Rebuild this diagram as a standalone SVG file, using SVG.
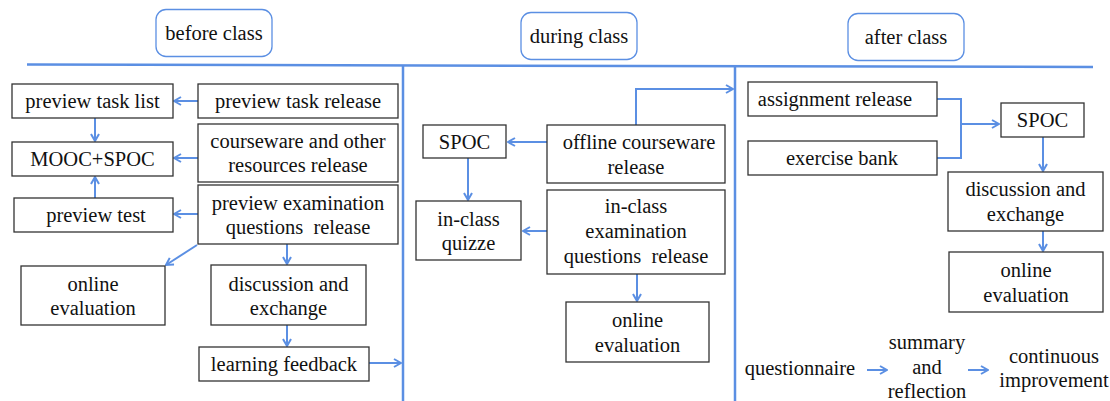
<svg xmlns="http://www.w3.org/2000/svg" width="1110" height="401" viewBox="0 0 1110 401">
<style>
text{font-family:'Liberation Serif','Times New Roman',Times,Tinos,'Noto Serif','DejaVu Serif',FreeSerif,serif;font-size:20.5px;fill:#111;text-anchor:middle}
.box{fill:#fff;stroke:#333;stroke-width:1.3}
.title{fill:#fff;stroke:#5b8fe3;stroke-width:1.3}
.c{fill:none;stroke:#5b8fe3;stroke-width:2}
.div{fill:none;stroke:#5b8fe3;stroke-width:2.5}
.pre{white-space:pre}
</style>
<defs>
<marker id="a" viewBox="0 0 10 10" refX="9" refY="5" markerWidth="10" markerHeight="10" markerUnits="userSpaceOnUse" orient="auto">
<path d="M2,1 L9,5 L2,9" fill="none" stroke="#5b8fe3" stroke-width="2"/>
</marker>
</defs>
<rect width="1110" height="401" fill="#fff"/>

<g id="dividers">
<line class="div" x1="27" y1="64.5" x2="1093" y2="67"/>
<line class="div" x1="403" y1="66" x2="403" y2="401"/>
<line class="div" x1="735" y1="66" x2="735" y2="401"/>
</g>

<g id="title-before"><rect class="title" x="156" y="9.5" width="116" height="47" rx="10"/><text x="214" y="40">before class</text></g>
<g id="title-during"><rect class="title" x="521" y="12.5" width="116" height="47" rx="10"/><text x="579" y="43">during class</text></g>
<g id="title-after"><rect class="title" x="848" y="13.5" width="116" height="47" rx="10"/><text x="906" y="44">after class</text></g>

<g id="connectors">
<line class="c" x1="198" y1="101" x2="174" y2="101" marker-end="url(#a)"/>
<line class="c" x1="95" y1="118" x2="95" y2="141" marker-end="url(#a)"/>
<line class="c" x1="198" y1="158" x2="174" y2="158" marker-end="url(#a)"/>
<line class="c" x1="95" y1="198" x2="95" y2="177" marker-end="url(#a)"/>
<line class="c" x1="198" y1="214" x2="174" y2="214" marker-end="url(#a)"/>
<line class="c" x1="197" y1="245" x2="166" y2="265" marker-end="url(#a)"/>
<line class="c" x1="287" y1="244" x2="287" y2="264" marker-end="url(#a)"/>
<line class="c" x1="287" y1="325" x2="287" y2="346" marker-end="url(#a)"/>
<line class="c" x1="369" y1="363" x2="401" y2="363" marker-end="url(#a)"/>

<line class="c" x1="547" y1="142" x2="508" y2="142" marker-end="url(#a)"/>
<polyline class="c" points="636,125 636,89 733,89" marker-end="url(#a)"/>
<line class="c" x1="468" y1="158" x2="468" y2="200" marker-end="url(#a)"/>
<line class="c" x1="547" y1="231" x2="523" y2="231" marker-end="url(#a)"/>
<line class="c" x1="637" y1="274" x2="637" y2="301" marker-end="url(#a)"/>

<polyline class="c" points="937,99 961,99 961,158 937,158"/>
<line class="c" x1="961" y1="124" x2="999" y2="124" marker-end="url(#a)"/>
<line class="c" x1="1043" y1="137" x2="1043" y2="171" marker-end="url(#a)"/>
<line class="c" x1="1043" y1="231" x2="1043" y2="251" marker-end="url(#a)"/>
<line class="c" x1="867" y1="370" x2="887" y2="370" marker-end="url(#a)"/>
<line class="c" x1="968" y1="370" x2="988" y2="370" marker-end="url(#a)"/>
</g>

<g id="preview-task-list"><rect class="box" x="12" y="84" width="161" height="34"/><text x="92.5" y="108">preview task list</text></g>
<g id="preview-task-release"><rect class="box" x="198" y="84" width="200" height="34"/><text x="298" y="108">preview task release</text></g>
<g id="mooc-spoc"><rect class="box" x="12" y="142" width="161" height="34"/><text x="92.5" y="166">MOOC+SPOC</text></g>
<g id="courseware-release"><rect class="box" x="198" y="124" width="200" height="58"/><text x="298" y="148">courseware and other</text><text x="298" y="172">resources release</text></g>
<g id="preview-test"><rect class="box" x="14" y="198" width="159" height="34"/><text x="96" y="222">preview test</text></g>
<g id="preview-exam-release"><rect class="box" x="198" y="185" width="200" height="59"/><text x="298" y="210">preview examination</text><text class="pre" x="298" y="234">questions  release</text></g>
<g id="online-eval-before"><rect class="box" x="21" y="266" width="144" height="59"/><text x="93" y="291">online</text><text x="93" y="315">evaluation</text></g>
<g id="discussion-before"><rect class="box" x="211" y="265" width="155" height="60"/><text x="288.5" y="291">discussion and</text><text x="288.5" y="315">exchange</text></g>
<g id="learning-feedback"><rect class="box" x="199" y="347" width="170" height="34"/><text x="284" y="371">learning feedback</text></g>

<g id="spoc-during"><rect class="box" x="423" y="125" width="83" height="33"/><text x="464.5" y="149">SPOC</text></g>
<g id="offline-courseware"><rect class="box" x="547" y="125" width="178" height="58"/><text x="639" y="149">offline courseware</text><text x="636" y="174">release</text></g>
<g id="in-class-quizze"><rect class="box" x="416" y="201" width="105" height="59"/><text x="468.5" y="226">in-class</text><text x="468.5" y="250">quizze</text></g>
<g id="in-class-exam-release"><rect class="box" x="547" y="190" width="178" height="84"/><text x="636" y="213">in-class</text><text x="636" y="238">examination</text><text class="pre" x="636" y="263">questions  release</text></g>
<g id="online-eval-during"><rect class="box" x="566" y="302" width="143" height="60"/><text x="637.5" y="327">online</text><text x="637.5" y="352">evaluation</text></g>

<g id="assignment-release"><rect class="box" x="748" y="82" width="189" height="34"/><text x="835" y="106">assignment release</text></g>
<g id="exercise-bank"><rect class="box" x="748" y="141" width="189" height="34"/><text x="842" y="165">exercise bank</text></g>
<g id="spoc-after"><rect class="box" x="1001" y="103" width="83" height="34"/><text x="1042.5" y="127">SPOC</text></g>
<g id="discussion-after"><rect class="box" x="948" y="172" width="155" height="59"/><text x="1025.5" y="196">discussion and</text><text x="1025.5" y="221">exchange</text></g>
<g id="online-eval-after"><rect class="box" x="949" y="252" width="154" height="60"/><text x="1026" y="277">online</text><text x="1026" y="302">evaluation</text></g>

<g id="questionnaire"><text x="800" y="375">questionnaire</text></g>
<g id="summary-reflection"><text x="927" y="349">summary</text><text x="927" y="374">and</text><text x="927" y="398">reflection</text></g>
<g id="continuous-improvement"><text x="1054" y="363">continuous</text><text x="1054" y="387">improvement</text></g>
</svg>
